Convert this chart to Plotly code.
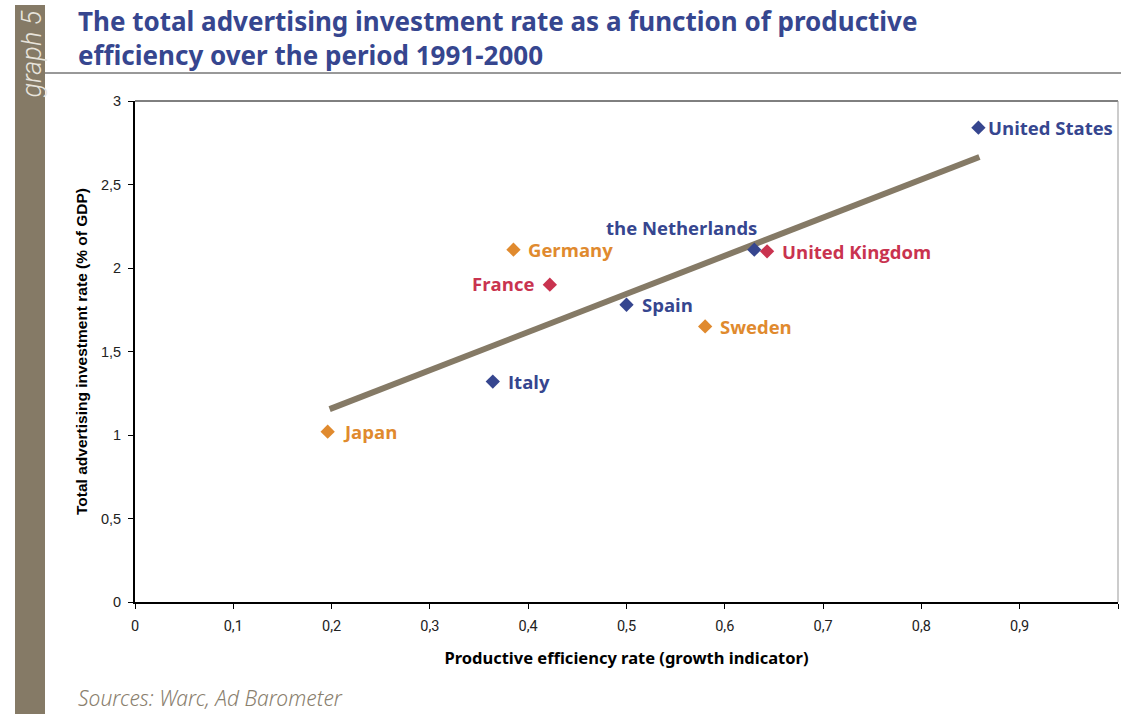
import plotly.graph_objects as go

countries = ["United States", "the Netherlands", "United Kingdom", "Germany", "France",
             "Spain", "Sweden", "Italy", "Japan"]
efficiency = [0.858, 0.630, 0.643, 0.385, 0.422, 0.500, 0.580, 0.364, 0.196]
adrate = [2.84, 2.11, 2.10, 2.11, 1.90, 1.78, 1.65, 1.32, 1.02]
groups = ["blue", "blue", "red", "orange", "red", "blue", "orange", "blue", "orange"]
label_side = ["right_tight", "above", "right", "right", "left", "right", "right", "right", "right"]

trend_x = [0.198, 0.859]
trend_y = [1.155, 2.665]

x_ticks = [0, 0.1, 0.2, 0.3, 0.4, 0.5, 0.6, 0.7, 0.8, 0.9, 1]
y_ticks = [0, 0.5, 1, 1.5, 2, 2.5, 3]

colors = {"blue": "#36468f", "orange": "#e08a2e", "red": "#c9334f"}
brown = "#857a66"

W, H = 1121, 714
ML, MR, MT, MB = 135, 3, 101, 112
PW, PH = W - ML - MR, H - MT - MB


def px(x):
    return (x - ML) / PW


def py(y):
    return (H - y - MB) / PH


fig = go.Figure()
fig.add_trace(go.Scatter(x=trend_x, y=trend_y, mode="lines",
                         line=dict(color=brown, width=6), hoverinfo="skip",
                         showlegend=False))
for g in ["blue", "orange", "red"]:
    xs = [x for x, gg in zip(efficiency, groups) if gg == g]
    ys = [y for y, gg in zip(adrate, groups) if gg == g]
    fig.add_trace(go.Scatter(x=xs, y=ys, mode="markers",
                             marker=dict(symbol="diamond", size=11, color=colors[g]),
                             showlegend=False))

lab_font = "Open Sans"
for c, x, y, g, side in zip(countries, efficiency, adrate, groups, label_side):
    f = dict(family=lab_font, size=18.5, color=colors[g], weight="bold")
    if side == "right":
        fig.add_annotation(x=x, y=y, text=c, showarrow=False, xanchor="left",
                           xshift=13, yshift=0, font=f)
    elif side == "right_tight":
        fig.add_annotation(x=x, y=y, text=c, showarrow=False, xanchor="left",
                           xshift=8, yshift=0, font=f)
    elif side == "left":
        fig.add_annotation(x=x, y=y, text=c, showarrow=False, xanchor="right",
                           xshift=-14, yshift=1, font=f)
    else:
        fig.add_annotation(x=x, y=y, text=c, showarrow=False, xanchor="right",
                           xshift=5, yshift=22, font=f)

fig.update_layout(
    width=W, height=H,
    margin=dict(l=ML, r=MR, t=MT, b=MB),
    paper_bgcolor="white", plot_bgcolor="white",
    separators=", ",
    font=dict(family="Roboto", color="#222222"),
    xaxis=dict(range=[0, 1], tickvals=x_ticks, showgrid=False, zeroline=False,
               showline=True, linecolor="black", linewidth=2, mirror=False,
               ticks="outside", ticklen=5, tickcolor="black", tickwidth=1,
               ticklabelstandoff=5,
               tickfont=dict(family="Roboto", size=14.5, color="#222222"),
               title=dict(text="Productive efficiency rate (growth indicator)",
                          font=dict(family="Noto Sans", size=16.5, color="black", weight="bold"),
                          standoff=18)),
    yaxis=dict(range=[0, 3], tickvals=y_ticks, showgrid=False, zeroline=False,
               showline=True, linecolor="black", linewidth=2,
               ticks="outside", ticklen=5, tickcolor="black", tickwidth=1,
               ticklabelstandoff=4,
               tickfont=dict(family="Liberation Sans", size=14.5, color="#222222"),
               title=dict(text="Total advertising investment rate (% of GDP)",
                          font=dict(family="Liberation Sans", size=15.5, color="black", weight="bold"),
                          standoff=10)),
    shapes=[
        dict(type="line", xref="paper", yref="paper", x0=0, x1=1, y0=1, y1=1,
             line=dict(color="black", width=1)),
        dict(type="line", xref="paper", yref="paper", x0=1, x1=1, y0=0, y1=1,
             line=dict(color="#999999", width=1)),
        dict(type="rect", xref="paper", yref="paper",
             x0=px(15), x1=px(45), y0=py(H), y1=py(5),
             fillcolor=brown, line=dict(width=0), layer="below"),
        dict(type="line", xref="paper", yref="paper",
             x0=px(45), x1=px(W), y0=py(73), y1=py(73),
             line=dict(color="#333333", width=1)),
    ],
)

fig.add_annotation(xref="paper", yref="paper", x=px(76), y=py(1),
                   xanchor="left", yanchor="top", align="left", showarrow=False,
                   text="The total advertising investment rate as a function of productive<br>efficiency over the period 1991-2000",
                   font=dict(family="Noto Sans", size=26, color="#36468f", weight="bold"))
fig.add_annotation(xref="paper", yref="paper", x=px(31), y=py(9),
                   xanchor="center", yanchor="top", textangle=-90, showarrow=False,
                   text="<i>graph 5</i>",
                   font=dict(family="Roboto", size=27, color="#e8e4dc", weight=300))
fig.add_annotation(xref="paper", yref="paper", x=px(76), y=py(698),
                   xanchor="left", yanchor="middle", showarrow=False,
                   text="<i>Sources: Warc, Ad Barometer</i>",
                   font=dict(family="Noto Sans", size=21, color="#8a806e", weight=300))

fig.write_html("out.html", config={"displayModeBar": False},
               post_script="document.body.style.margin='0';document.body.style.overflow='hidden';")
